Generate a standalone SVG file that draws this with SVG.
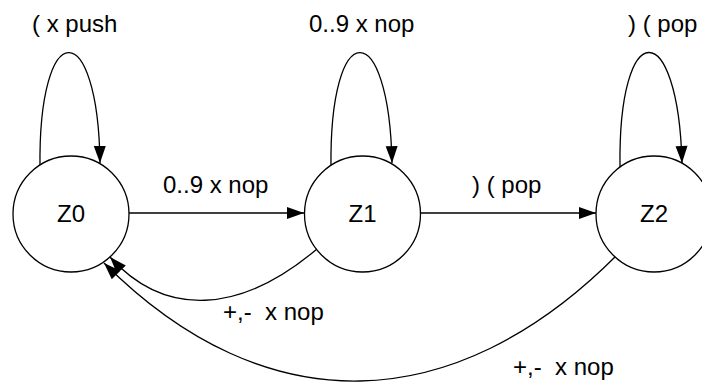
<svg xmlns="http://www.w3.org/2000/svg" width="702" height="382" viewBox="0 0 702 382">
<style>
.node{fill:#fff;stroke:#000;stroke-width:1.3}
.edge{fill:none;stroke:#000;stroke-width:1.3;marker-end:url(#arr)}
text{font-family:"Liberation Sans",Arial,sans-serif;font-size:24px;fill:#000;white-space:pre}
.c{text-anchor:middle}
</style>
<defs>
<marker id="arr" markerUnits="userSpaceOnUse" markerWidth="17" markerHeight="12" refX="17" refY="6" orient="auto" overflow="visible">
<path d="M0,0 L17,6 L0,12 Z" fill="#000"/>
</marker>
</defs>
<rect width="702" height="382" fill="#fff"/>
<g id="connectors">
<path class="edge" d="M40,168 C38,15 98,15 100,163"/>
<path class="edge" d="M331,168 C329,15 389,15 392,163"/>
<path class="edge" d="M620,167 C618,15 678,15 682,163"/>
<path class="edge" d="M129,213 L304,213"/>
<path class="edge" d="M421,213 L596,213"/>
<path class="edge" d="M317,249 C240,314 165,318 110,257"/>
<path class="edge" d="M616,256 C454,418 266,425 104,263"/>
</g>
<g id="Z0"><circle class="node" cx="71" cy="214" r="58"/><text class="c" x="71" y="222">Z0</text></g>
<g id="Z1"><circle class="node" cx="362.5" cy="214" r="58"/><text class="c" x="362.5" y="222">Z1</text></g>
<g id="Z2"><circle class="node" cx="654" cy="214" r="58"/><text class="c" x="654" y="222">Z2</text></g>
<g id="labels">
<text x="32" y="32">( x push</text>
<text x="309" y="32">0..9 x nop</text>
<text x="628" y="32">) ( pop</text>
<text x="163" y="193">0..9 x nop</text>
<text x="472" y="193">) ( pop</text>
<text x="223" y="320">+,-  x nop</text>
<text x="513" y="375">+,-  x nop</text>
</g>
</svg>
